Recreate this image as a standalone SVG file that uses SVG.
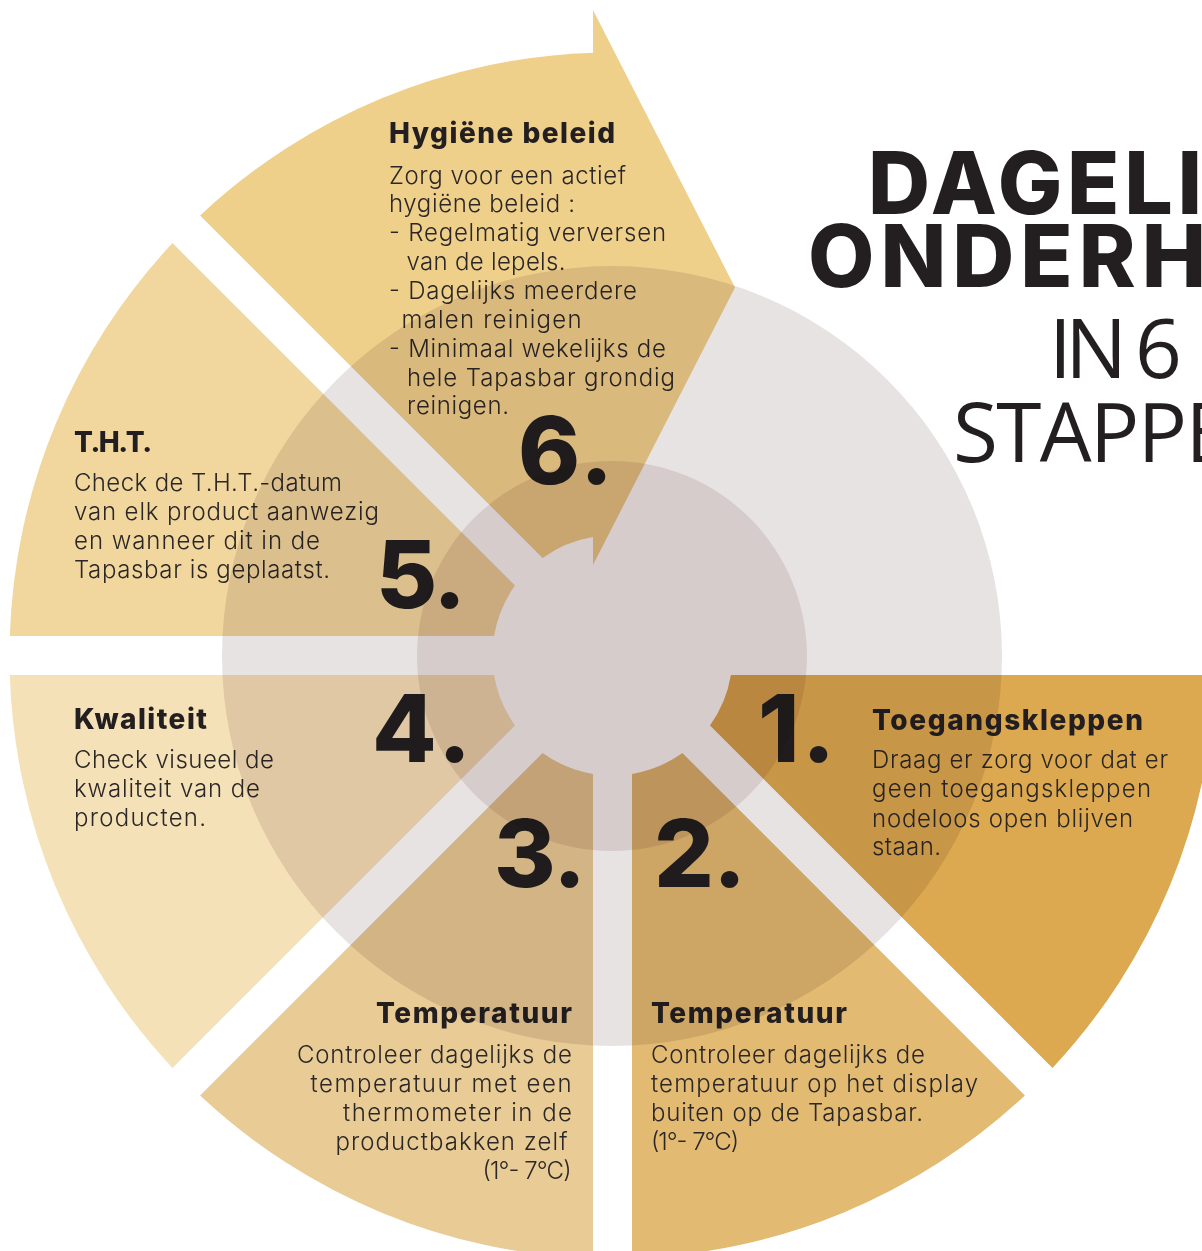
<svg xmlns="http://www.w3.org/2000/svg" width="1202" height="1251" viewBox="0 0 1202 1251">
<style>
.h{font-family:Inter,"DejaVu Sans",sans-serif;font-weight:800;font-size:28px;fill:#231f20}
.b{font-family:Inter,"DejaVu Sans",sans-serif;font-weight:300;font-size:24px;fill:#2b2727}
.n{font-family:Inter,"DejaVu Sans",sans-serif;font-weight:800;font-size:94px;fill:#231f20}
.tb{font-family:Inter,"DejaVu Sans",sans-serif;font-weight:800;font-size:86px;fill:#231f20}
.tl{font-family:"Open Sans","DejaVu Sans",sans-serif;font-weight:400;font-size:82px;fill:#231f20}
.ring{mix-blend-mode:multiply}
</style>
<rect width="1202" height="1251" fill="#ffffff"/>
<g id="title">
<text class="tb" x="868" y="214" textLength="334">DAGELI</text>
<text class="tb" x="808" y="287" textLength="398">ONDERH</text>
<text class="tl" x="1049" y="378" textLength="133">IN 6</text>
<text class="tl" x="953" y="462" textLength="278">STAPPE</text>
</g>
<g id="step-1">
<path d="M730.9 675 L1215.2 675 A603 603 0 0 1 1052.5 1067.9 L710 725.4 A120 120 0 0 0 730.9 675 Z" fill="#dca950"/>
<text class="n" y="762"><tspan x="758">1</tspan><tspan x="802">.</tspan></text>
<text class="h" x="872" y="729.5" textLength="271">Toegangskleppen</text>
<text class="b" x="872" y="768.3" textLength="296">Draag er zorg voor dat er</text>
<text class="b" x="872" y="797.3" textLength="279">geen toegangskleppen</text>
<text class="b" x="872" y="826.5" textLength="261">nodeloos open blijven</text>
<text class="b" x="872" y="855.3" textLength="69">staan.</text>
</g>
<g id="step-2">
<path d="M682.4 753 L1024.9 1095.5 A603 603 0 0 1 632 1258.2 L632 773.9 A120 120 0 0 0 682.4 753 Z" fill="#e2ba71"/>
<text class="n" y="887"><tspan x="654">2</tspan><tspan x="713">.</tspan></text>
<text class="h" x="651" y="1023.3" textLength="196">Temperatuur</text>
<text class="b" x="651" y="1062.7" textLength="274">Controleer dagelijks de</text>
<text class="b" x="651" y="1091.7" textLength="327">temperatuur op het display</text>
<text class="b" x="651" y="1120.5" textLength="272">buiten op de Tapasbar.</text>
<text class="b" x="651" y="1149.5" textLength="88">(1°- 7°C)</text>
</g>
<g id="step-3">
<path d="M542.6 753 L200.1 1095.5 A603 603 0 0 0 593 1258.2 L593 773.9 A120 120 0 0 1 542.6 753 Z" fill="#e8cb95"/>
<text class="n" y="887"><tspan x="494">3</tspan><tspan x="553">.</tspan></text>
<text class="h" x="376" y="1023.3" textLength="196">Temperatuur</text>
<text class="b" x="297" y="1062.7" textLength="275">Controleer dagelijks de</text>
<text class="b" x="310.5" y="1091.7" textLength="261">temperatuur met een</text>
<text class="b" x="343" y="1120.5" textLength="229">thermometer in de</text>
<text class="b" x="335.5" y="1149.5" textLength="232">productbakken zelf</text>
<text class="b" x="482.5" y="1178.5" textLength="89">(1°- 7°C)</text>
</g>
<g id="step-4">
<path d="M494.1 675 L9.8 675 A603 603 0 0 0 172.5 1067.9 L515 725.4 A120 120 0 0 1 494.1 675 Z" fill="#f5e1b7"/>
<text class="n" y="762"><tspan x="372">4</tspan><tspan x="438">.</tspan></text>
<text class="h" x="74" y="729" textLength="133">Kwaliteit</text>
<text class="b" x="74" y="767.7" textLength="200">Check visueel de</text>
<text class="b" x="74" y="796.7" textLength="186">kwaliteit van de</text>
<text class="b" x="74" y="826" textLength="132">producten.</text>
</g>
<g id="step-5">
<path d="M494.1 636 L9.8 636 A603 603 0 0 1 172.5 243.1 L515 585.6 A120 120 0 0 0 494.1 636 Z" fill="#f1d79e"/>
<text class="n" y="607.5"><tspan x="376">5</tspan><tspan x="433">.</tspan></text>
<text class="h" x="74" y="452.3" textLength="78">T.H.T.</text>
<text class="b" x="74" y="491" textLength="268">Check de T.H.T.-datum</text>
<text class="b" x="74" y="520" textLength="305">van elk product aanwezig</text>
<text class="b" x="74" y="549" textLength="246">en wanneer dit in de</text>
<text class="b" x="74" y="577.5" textLength="256">Tapasbar is geplaatst.</text>
</g>
<g id="step-6">
<path d="M542.6 558 L200.1 215.5 A603 603 0 0 1 593 52.8 L593 10 L735 287.5 L593 565 L593 537.1 A120 120 0 0 0 542.6 558 Z" fill="#efd08b"/>
<text class="n" y="484"><tspan x="518">6</tspan><tspan x="580">.</tspan></text>
<text class="h" x="389" y="142.5" textLength="226">Hygiëne beleid</text>
<text class="b" x="389" y="183.5" textLength="237">Zorg voor een actief</text>
<text class="b" x="389" y="212" textLength="186">hygiëne beleid :</text>
<text class="b" x="389" y="241" textLength="277">- Regelmatig verversen</text>
<text class="b" x="406.5" y="270" textLength="159">van de lepels.</text>
<text class="b" x="389" y="298.5" textLength="248">- Dagelijks meerdere</text>
<text class="b" x="401.5" y="327.5" textLength="180">malen reinigen</text>
<text class="b" x="389" y="356.5" textLength="277">- Minimaal wekelijks de</text>
<text class="b" x="407" y="385.5" textLength="268">hele Tapasbar grondig</text>
<text class="b" x="407" y="414.3" textLength="102">reinigen.</text>
</g>
<g id="rings">
<circle class="ring" cx="612" cy="656" r="390" fill="#e8e3e3"/>
<circle class="ring" cx="612" cy="656" r="195" fill="#ece5e5"/>
</g>
<g id="connectors"/>
</svg>
